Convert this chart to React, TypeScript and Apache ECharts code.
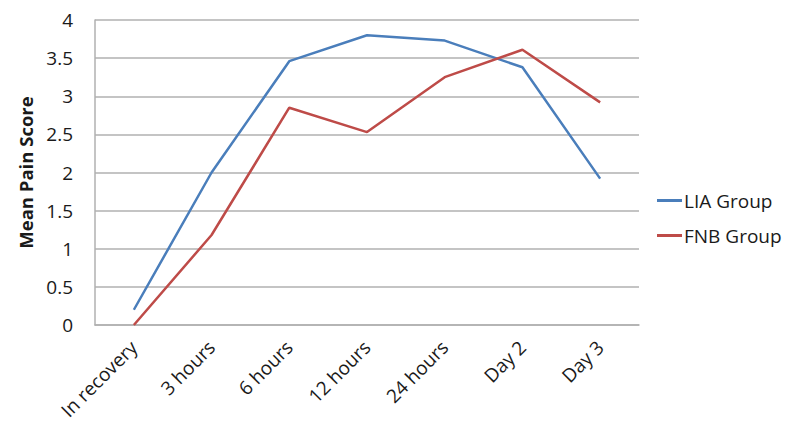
import React, { useEffect, useRef } from "react";
import * as echarts from "echarts";

const categories = ["In recovery", "3 hours", "6 hours", "12 hours", "24 hours", "Day 2", "Day 3"];
const liaGroup = [0.2, 2.0, 3.46, 3.8, 3.73, 3.38, 1.92];
const fnbGroup = [0.0, 1.18, 2.85, 2.53, 3.25, 3.61, 2.92];
const seriesNames = ["LIA Group", "FNB Group"];
const yAxisName = "Mean Pain Score";

const FONT = "'Open Sans', 'Liberation Sans', sans-serif";

export default function App() {
  const ref = useRef<HTMLDivElement>(null);
  useEffect(() => {
    if (!ref.current) return;
    const chart = echarts.init(ref.current, null, { renderer: "svg" });
    chart.setOption({
      animation: false,
      backgroundColor: "#ffffff",
      grid: { left: 95, right: 161, top: 20, bottom: 113, containLabel: false },
      legend: {
        orient: "vertical",
        left: 657,
        top: 191,
        padding: 0,
        itemWidth: 25,
        itemHeight: 3,
        itemGap: 16,
        icon: "rect",
        data: seriesNames,
        textStyle: { fontFamily: FONT, fontSize: 19, color: "#1a1a1a", padding: [0, 0, 0, -3] },
      },
      xAxis: {
        type: "category",
        data: categories,
        boundaryGap: true,
        axisLine: { show: true, lineStyle: { color: "#b0b0b0", width: 1.5 } },
        axisTick: { show: false },
        axisLabel: {
          rotate: 45,
          interval: 0,
          margin: 19,
          fontFamily: FONT,
          fontSize: 19,
          color: "#1a1a1a",
        },
        splitLine: { show: false },
      },
      yAxis: {
        type: "value",
        min: 0,
        max: 4,
        interval: 0.5,
        name: yAxisName,
        nameLocation: "middle",
        nameGap: 58,
        nameTextStyle: { fontFamily: FONT, fontSize: 18.5, fontWeight: "bold", color: "#1a1a1a" },
        axisLine: { show: true, lineStyle: { color: "#b0b0b0", width: 1.5 } },
        axisTick: { show: false },
        axisLabel: { fontFamily: FONT, fontSize: 19, color: "#1a1a1a", margin: 22 },
        splitLine: { show: true, lineStyle: { color: "#b0b0b0", width: 1.5 } },
      },
      series: [
        {
          name: seriesNames[0],
          type: "line",
          data: liaGroup,
          symbol: "none",
          lineStyle: { color: "#4a7ebb", width: 2.5 },
          itemStyle: { color: "#4a7ebb" },
        },
        {
          name: seriesNames[1],
          type: "line",
          data: fnbGroup,
          symbol: "none",
          lineStyle: { color: "#be4b48", width: 2.5 },
          itemStyle: { color: "#be4b48" },
        },
      ],
    });
    return () => chart.dispose();
  }, []);
  return <div ref={ref} style={{ width: 800, height: 438, position: "absolute", left: 0, top: 0 }} />;
}
